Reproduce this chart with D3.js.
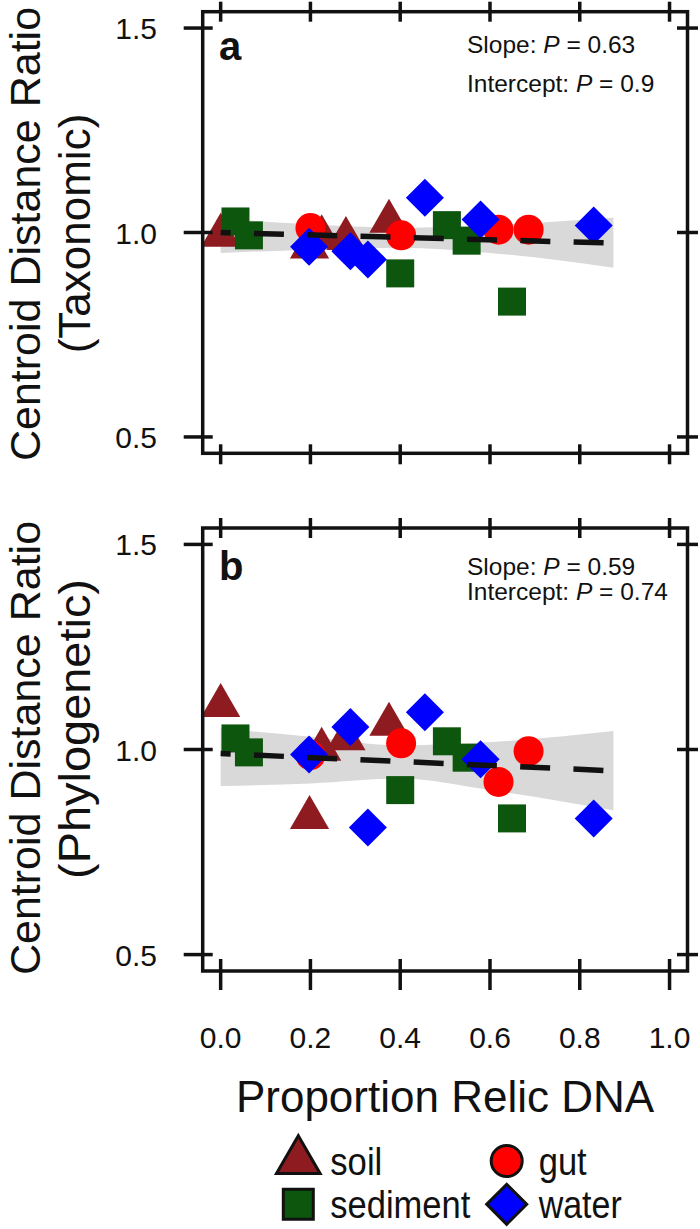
<!DOCTYPE html>
<html><head><meta charset="utf-8">
<script src="https://cdn.jsdelivr.net/npm/d3@7"></script>
<style>
body{margin:0;background:#fff}
svg{display:block}
text{font-family:"Liberation Sans",Arial,Helvetica,sans-serif;fill:#111}
</style>
</head><body>
<svg id="chart" width="700" height="1229"></svg>
<script>
// ---------------- data ----------------
const categories = ["soil", "gut", "sediment", "water"];
const xTicks = [0, 0.2, 0.4, 0.6, 0.8, 1.0];
const yTicks = [0.5, 1.0, 1.5];

const soilX = [0.0, 0.198, 0.225, 0.279, 0.375];
const soilTax = [0.993, 0.964, 0.989, 0.985, 1.027];
const soilPhy = [1.107, 0.834, 1.000, 1.026, 1.061];

const gutX = [0.200, 0.402, 0.619, 0.686];
const gutTax = [1.011, 0.993, 1.007, 1.007];
const gutPhy = [0.986, 1.015, 0.921, 0.996];

const sedimentX = [0.033, 0.063, 0.400, 0.504, 0.548, 0.649];
const sedimentTax = [1.027, 0.993, 0.900, 1.018, 0.980, 0.831];
const sedimentPhy = [1.027, 0.993, 0.901, 1.020, 0.980, 0.832];

const waterX = [0.197, 0.289, 0.328, 0.455, 0.579, 0.831];
const waterTax = [0.965, 0.954, 0.934, 1.085, 1.032, 1.017];
const waterPhy = [0.988, 1.055, 0.810, 1.091, 0.976, 0.832];

// fitted line and confidence band
const fitX = [0, 0.875];
const fitTax = [1.000, 0.974];
const fitPhy = [0.990, 0.948];
const bandX = [0, 0.2, 0.4, 0.6, 0.875];
const bandTaxUpper = [1.034, 1.020, 1.012, 1.018, 1.036];
const bandTaxLower = [0.950, 0.958, 0.963, 0.950, 0.914];
const bandPhyUpper = [1.051, 1.031, 1.010, 1.018, 1.045];
const bandPhyLower = [0.911, 0.917, 0.929, 0.901, 0.852];

const slopeP = ["0.63", "0.59"];
const interceptP = ["0.9", "0.74"];
const panelLetters = ["a", "b"];
const subtitles = ["(Taxonomic)", "(Phylogenetic)"];

// ---------------- styles ----------------
const colors = {soil: "#8e1b1f", gut: "#ff0000", sediment: "#0d560d", water: "#0000ff"};
const symbols = {soil: d3.symbolTriangle, gut: d3.symbolCircle, sediment: d3.symbolSquare, water: d3.symbolSquare};
const sizes = {soil: 667, gut: 707, sediment: 784, water: 723};
const rotations = {soil: 0, gut: 0, sediment: 0, water: 45};

const svg = d3.select("#chart");
const left = 202.7, right = 687.5;
const x = d3.scaleLinear().domain([-0.04, 1.04]).range([left, right]);

const panels = [
  {top: 11.7, bottom: 453.3, vals: {soil: soilTax, gut: gutTax, sediment: sedimentTax, water: waterTax},
   fit: fitTax, up: bandTaxUpper, lo: bandTaxLower, statY: [53, 92], letterY: 60, bottomTick: [9, 11],
   titleC: [234, 233.5], subLen: null},
  {top: 528, bottom: 971, vals: {soil: soilPhy, gut: gutPhy, sediment: sedimentPhy, water: waterPhy},
   fit: fitPhy, up: bandPhyUpper, lo: bandPhyLower, statY: [575, 600], letterY: 580, bottomTick: [12, 19],
   titleC: [748, 729], subLen: 300}
];
const xs = {soil: soilX, gut: gutX, sediment: sedimentX, water: waterX};

panels.forEach((p, i) => {
  const y = d3.scaleLinear().domain([0.46, 1.54]).range([p.bottom, p.top]);
  const g = svg.append("g");

  // confidence band
  const bandData = bandX.map((v, k) => ({x: v, u: p.up[k], l: p.lo[k]}));
  g.append("path").datum(bandData)
    .attr("fill", "#d9d9d9")
    .attr("d", d3.area().curve(d3.curveMonotoneX)
      .x(d => x(d.x)).y0(d => y(d.l)).y1(d => y(d.u)));

  // points
  ["soil", "sediment", "gut", "water"].forEach(c => {
    const pts = xs[c].map((v, k) => ({x: v, y: p.vals[c][k]}));
    g.selectAll(null).data(pts).enter().append("path")
      .attr("d", d3.symbol(symbols[c], sizes[c]))
      .attr("transform", d => `translate(${x(d.x)},${y(d.y)}) rotate(${rotations[c]})`)
      .attr("fill", colors[c]);
  });

  // fitted line
  const fitData = fitX.map((v, k) => ({x: v, y: p.fit[k]}));
  g.append("path").datum(fitData)
    .attr("fill", "none").attr("stroke", "#111").attr("stroke-width", 5.5)
    .attr("stroke-dasharray", "30 23.3").attr("stroke-dashoffset", 20)
    .attr("d", d3.line().x(d => x(d.x)).y(d => y(d.y)));

  // box
  g.append("rect").attr("x", left).attr("y", p.top)
    .attr("width", right - left).attr("height", p.bottom - p.top)
    .attr("fill", "none").attr("stroke", "#111").attr("stroke-width", 3.5);

  // ticks
  const tk = g.append("g").attr("stroke", "#111").attr("stroke-width", 3.5);
  tk.selectAll(null).data(yTicks).enter().append("line")
    .attr("x1", left - 19).attr("x2", left + 10).attr("y1", d => y(d)).attr("y2", d => y(d));
  tk.selectAll(null).data(yTicks).enter().append("line")
    .attr("x1", right - 10.5).attr("x2", right + 10.5).attr("y1", d => y(d)).attr("y2", d => y(d));
  tk.selectAll(null).data(xTicks).enter().append("line")
    .attr("y1", p.top - 10).attr("y2", p.top + 10).attr("x1", d => x(d)).attr("x2", d => x(d));
  tk.selectAll(null).data(xTicks).enter().append("line")
    .attr("y1", p.bottom - p.bottomTick[0]).attr("y2", p.bottom + p.bottomTick[1])
    .attr("x1", d => x(d)).attr("x2", d => x(d));

  // y tick labels
  g.selectAll(null).data(yTicks).enter().append("text")
    .attr("x", 157).attr("y", d => y(d) + 11)
    .attr("text-anchor", "end").attr("font-size", 30)
    .text(d => d3.format(".1f")(d));

  // panel letter
  g.append("text").attr("x", 219).attr("y", p.letterY)
    .attr("font-size", 40).attr("font-weight", "bold").text(panelLetters[i]);

  // stats
  const s1 = g.append("text").attr("x", 467).attr("y", p.statY[0]).attr("font-size", 24.5);
  s1.append("tspan").text("Slope: ");
  s1.append("tspan").attr("font-style", "italic").text("P");
  s1.append("tspan").text(" = " + slopeP[i]);
  const s2 = g.append("text").attr("x", 467).attr("y", p.statY[1]).attr("font-size", 24.5);
  s2.append("tspan").text("Intercept: ");
  s2.append("tspan").attr("font-style", "italic").text("P");
  s2.append("tspan").text(" = " + interceptP[i]);

  // y titles
  g.append("text").attr("transform", `translate(39.5,${p.titleC[0]}) rotate(-90)`)
    .attr("text-anchor", "middle").attr("font-size", 43).text("Centroid Distance Ratio");
  const sub = g.append("text").attr("transform", `translate(90,${p.titleC[1]}) rotate(-90)`)
    .attr("text-anchor", "middle").attr("font-size", 44).text(subtitles[i]);
  if (p.subLen) sub.attr("textLength", p.subLen).attr("lengthAdjust", "spacingAndGlyphs");

  // x tick labels on last panel
  if (i === panels.length - 1) {
    g.selectAll(null).data(xTicks).enter().append("text")
      .attr("x", d => x(d)).attr("y", 1048)
      .attr("text-anchor", "middle").attr("font-size", 30)
      .text(d => d3.format(".1f")(d));
  }
});

// x title
svg.append("text").attr("x", 445).attr("y", 1112).attr("text-anchor", "middle")
  .attr("font-size", 44).text("Proportion Relic DNA");

// legend
const legendOrder = ["soil", "gut", "sediment", "water"];
const legendSizes = {soil: 825, gut: 755, sediment: 900, water: 800};
const legendTextLen = {soil: 52, gut: 48, sediment: 140, water: 83};
const colX = [298.3, 506.7], rowY = [1161, 1204.3];
const lg = svg.append("g");
legendOrder.forEach((c, k) => {
  const cx = colX[k % 2], cy = rowY[Math.floor(k / 2)];
  lg.append("path")
    .attr("d", d3.symbol(symbols[c], legendSizes[c]))
    .attr("transform", `translate(${cx},${cy}) rotate(${rotations[c]})`)
    .attr("fill", colors[c]).attr("stroke", "#111").attr("stroke-width", 3);
  lg.append("text").attr("x", cx + 32).attr("y", cy + 13.5)
    .attr("font-size", 38)
    .attr("textLength", legendTextLen[c]).attr("lengthAdjust", "spacingAndGlyphs")
    .text(c);
});
</script>
</body></html>
